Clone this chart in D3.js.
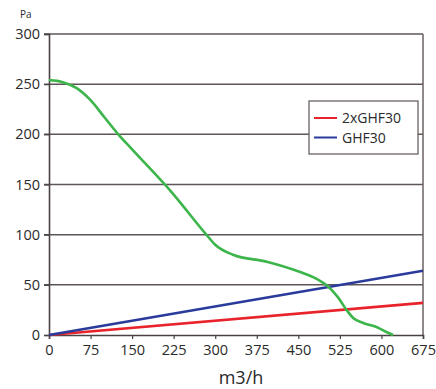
<!DOCTYPE html>
<html>
<head>
<meta charset="utf-8">
<script src="https://cdn.jsdelivr.net/npm/d3@7"></script>
<style>
  body { margin: 0; background: #fff; }
  text { font-family: "Open Sans", "Noto Sans", sans-serif; fill: #2a2a2a; }
</style>
</head>
<body>
<div id="vis"></div>
<script>
// curve of the fan (m3/h -> Pa)
const fanFlow = [0, 25, 50, 75, 100, 125, 150, 225, 284, 300, 332, 393, 452, 483, 500, 521, 537, 549, 567, 591, 609, 621]
const fanPressure = [254, 252, 246, 234, 217, 200, 185, 140, 100, 90, 80, 73, 63, 56, 50, 38, 25, 17, 12, 8, 3, 0]

// system lines
const seriesNames = ['2xGHF30', 'GHF30']
const seriesColors = ['#e8232b', '#2b3b9c']
const lineFlow = [0, 675]
const line2x = [0, 32]
const line1x = [0, 64]

const xTicks = [0, 75, 150, 225, 300, 375, 450, 525, 600, 675]
const yTicks = [0, 50, 100, 150, 200, 250, 300]

const W = 436, H = 389
const margin = {left: 49, top: 34, right: 13, bottom: 54}

const svg = d3.select('#vis').append('svg')
	.attr('width', W)
	.attr('height', H)

const x = d3.scaleLinear([0, 675], [margin.left, W - margin.right])
const y = d3.scaleLinear([0, 300], [H - margin.bottom, margin.top])

// grid
svg.selectAll('.grid')
	.data(yTicks.filter(d => d > 0))
	.enter().append('line')
	.attr('class', 'grid')
	.attr('x1', x(0) - 5).attr('x2', x(675))
	.attr('y1', d => y(d)).attr('y2', d => y(d))
	.attr('stroke', '#5e5656')
	.attr('stroke-width', 1.5)

// right border
svg.append('line')
	.attr('x1', x(675)).attr('x2', x(675))
	.attr('y1', y(300)).attr('y2', y(0))
	.attr('stroke', '#6a6262')
	.attr('stroke-width', 1.5)

// axes
let yAxis = svg.append('g')
	.attr('transform', `translate(${x(0)},0)`)
	.call(d3.axisLeft(y).tickValues(yTicks).tickSize(5).tickPadding(4))
let xAxis = svg.append('g')
	.attr('transform', `translate(0,${y(0)})`)
	.call(d3.axisBottom(x).tickValues(xTicks).tickSize(4).tickPadding(6))

for (const ax of [xAxis, yAxis]) {
	ax.select('.domain').attr('stroke', '#4a4242').attr('stroke-width', 1.6)
	ax.selectAll('.tick line').attr('stroke', '#4a4242').attr('stroke-width', 1.2)
	ax.selectAll('.tick text')
		.attr('font-family', '"Open Sans", sans-serif')
		.attr('font-size', '14.5px')
		.attr('fill', '#2a2a2a')
}

// titles
svg.append('text')
	.attr('x', 20).attr('y', 18)
	.attr('font-size', '10px')
	.text('Pa')

svg.append('text')
	.attr('x', 241).attr('y', 384)
	.attr('text-anchor', 'middle')
	.attr('font-size', '18px')
	.text('m3/h')

// lines
const line = d3.line().x(d => x(d[0])).y(d => y(d[1]))

svg.append('path')
	.datum(lineFlow.map((f, i) => [f, line2x[i]]))
	.attr('d', line)
	.attr('fill', 'none')
	.attr('stroke', seriesColors[0])
	.attr('stroke-width', 2.6)

svg.append('path')
	.datum(lineFlow.map((f, i) => [f, line1x[i]]))
	.attr('d', line)
	.attr('fill', 'none')
	.attr('stroke', seriesColors[1])
	.attr('stroke-width', 2.6)

svg.append('path')
	.datum(fanFlow.map((f, i) => [f, fanPressure[i]]))
	.attr('d', line.curve(d3.curveMonotoneX))
	.attr('fill', 'none')
	.attr('stroke', '#3cb54a')
	.attr('stroke-width', 2.6)

// legend
let legend = svg.append('g').attr('transform', 'translate(309,101)')
legend.append('rect')
	.attr('width', 109).attr('height', 53)
	.attr('fill', '#fff')
	.attr('stroke', '#6a6262')
	.attr('stroke-width', 1.3)

legend.selectAll('.item')
	.data(seriesNames)
	.enter().append('g')
	.attr('class', 'item')
	.attr('transform', (d, i) => `translate(0,${17 + i * 19.5})`)
	.each(function(d, i) {
		let g = d3.select(this)
		g.append('line')
			.attr('x1', 5).attr('x2', 28)
			.attr('stroke', seriesColors[i])
			.attr('stroke-width', 2)
		g.append('text')
			.attr('x', 33).attr('y', 5)
			.attr('font-size', '14px')
			.text(d)
	})
</script>
</body>
</html>
